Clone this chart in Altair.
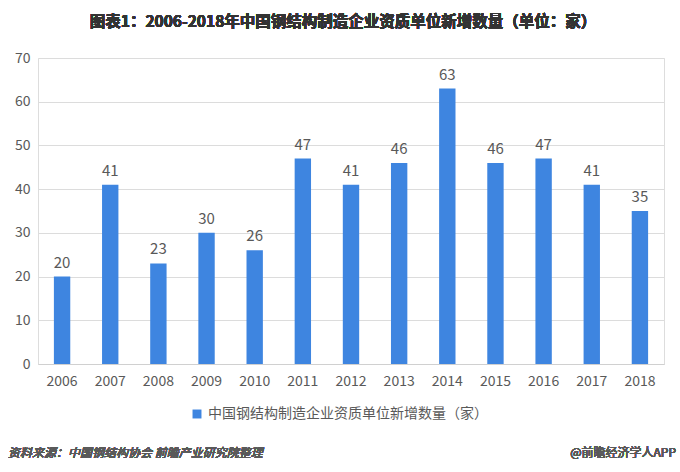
import altair as alt
import pandas as pd

years = ["2006", "2007", "2008", "2009", "2010", "2011", "2012", "2013", "2014", "2015", "2016", "2017", "2018"]
values = [20, 41, 23, 30, 26, 47, 41, 46, 63, 46, 47, 41, 35]
series_name = "中国钢结构制造企业资质单位新增数量（家）"
title_text = "图表1：2006-2018年中国钢结构制造企业资质单位新增数量（单位：家）"
source_text = "资料来源：中国钢结构协会  前瞻产业研究院整理"
brand_text = "@前瞻经济学人APP"

df = pd.DataFrame({"year": years, "value": values, "series": series_name})

FONT = "'Noto Sans CJK SC', 'Noto Sans', sans-serif"
W, H = 626, 306

x = alt.X("year:N", sort=years, title=None,
          scale=alt.Scale(paddingInner=0.66, paddingOuter=0.33),
          axis=alt.Axis(labelAngle=0, labelFontSize=14, labelColor="#595959",
                        labelFont=FONT, domainColor="#d0d0d0", ticks=False,
                        labelPadding=10))
y = alt.Y("value:Q", title=None,
          scale=alt.Scale(domain=[0, 70]),
          axis=alt.Axis(values=list(range(0, 71, 10)), labelFontSize=14,
                        labelColor="#595959", labelFont=FONT, domain=False,
                        ticks=False, gridColor="#dcdcdc", labelPadding=8))

bars = alt.Chart(df).mark_bar(color="#3E85E0").encode(
    x=x, y=y,
    color=alt.Color("series:N", scale=alt.Scale(range=["#3E85E0"]),
                    legend=alt.Legend(title=None, orient="none", legendX=152, legendY=349,
                                      symbolType="square", symbolSize=80,
                                      labelFontSize=14, labelColor="#595959",
                                      labelFont=FONT, symbolStrokeWidth=0,
                                      labelLimit=0))
)

labels = alt.Chart(df).mark_text(dy=-14, fontSize=15, color="#595959", font=FONT).encode(
    x=alt.X("year:N", sort=years), y="value:Q", text="value:Q"
)

title = alt.Chart(df).mark_text(fontSize=15.5, fontWeight="bold", color="#333333",
                                font=FONT, align="center").encode(
    x=alt.value(305), y=alt.value(-36), text=alt.datum(title_text)
)
src = alt.Chart(df).mark_text(fontSize=12, fontStyle="italic", fontWeight="normal",
                              color="#595959", font=FONT, align="left").encode(
    x=alt.value(-30), y=alt.value(395), text=alt.datum(source_text)
)
brand = alt.Chart(df).mark_text(fontSize=12, fontWeight="normal", color="#595959",
                                font=FONT, align="right").encode(
    x=alt.value(638), y=alt.value(395), text=alt.datum(brand_text)
)

chart = alt.layer(bars, labels, title, src, brand).properties(
    width=W, height=H,
    padding={"left": 38, "top": 58, "right": 16, "bottom": 108},
    autosize=alt.AutoSizeParams(type="none"),
).configure_view(stroke="#dcdcdc").configure(background="white")

chart.save("out.html", embed_options={"renderer": "svg", "actions": False})
